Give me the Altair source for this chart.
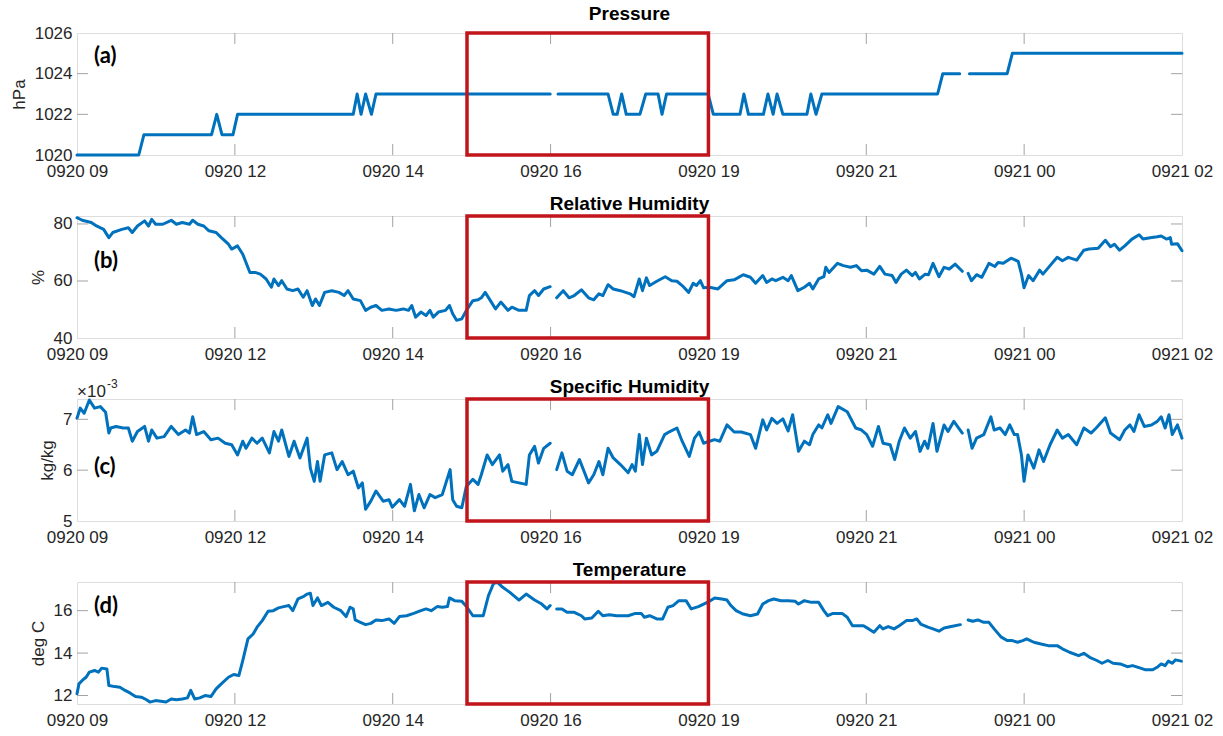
import altair as alt
import pandas as pd
import numpy as np

# ---------------- data (hours after 0920 09:00) ----------------
x_tick_labels = ["0920 09", "0920 12", "0920 14", "0920 16",
                 "0920 19", "0920 21", "0921 00", "0921 02"]
x_ticks = [i * 17 / 7 for i in range(8)]
gap_edges = [7.33, 13.66]          # data gaps split the lines here
box_span = [6.0, 17 * 4 / 7]       # highlighted window (red box)

p_hours = [0, 0.95, 1.03, 2.07, 2.15, 2.23, 2.40, 2.47, 4.25, 4.31, 4.37, 4.44, 4.53, 4.60, 7.28,
           7.40, 8.17, 8.25, 8.31, 8.38, 8.45, 8.66, 8.75, 8.94, 9.00, 9.07, 9.71, 9.79, 10.20,
           10.26, 10.33, 10.56, 10.63, 10.71, 10.77, 10.86, 11.23, 11.29, 11.37, 11.46, 13.24,
           13.32, 13.58, 13.73, 14.31, 14.39, 17.0]
p_hpa = [1020, 1020, 1021, 1021, 1022, 1021, 1021, 1022, 1022, 1023, 1022, 1023, 1022, 1023, 1023,
         1023, 1023, 1022, 1022, 1023, 1022, 1022, 1023, 1023, 1022, 1023, 1023, 1022, 1022,
         1023, 1022, 1022, 1023, 1022, 1023, 1022, 1022, 1023, 1022, 1023, 1023,
         1024, 1024, 1024, 1024, 1025, 1025]

rh_hours = [0.00, 0.08, 0.22, 0.30, 0.41, 0.49, 0.55, 0.69, 0.79, 0.85,
            0.93, 1.04, 1.10, 1.15, 1.21, 1.32, 1.45, 1.53, 1.62, 1.73,
            1.78, 1.86, 1.95, 2.03, 2.14, 2.22, 2.33, 2.38, 2.47, 2.55,
            2.60, 2.66, 2.74, 2.82, 2.91, 2.99, 3.03, 3.10, 3.15, 3.23,
            3.32, 3.40, 3.48, 3.54, 3.62, 3.67, 3.73, 3.81, 3.92, 4.03,
            4.11, 4.17, 4.25, 4.36, 4.44, 4.52, 4.60, 4.69, 4.80, 4.91,
            5.02, 5.10, 5.15, 5.21, 5.29, 5.37, 5.43, 5.48, 5.56, 5.67,
            5.73, 5.78, 5.84, 5.92, 5.99, 6.09, 6.17, 6.22, 6.28, 6.36,
            6.44, 6.52, 6.63, 6.69, 6.80, 6.91, 6.96, 7.04, 7.10, 7.18,
            7.28, 7.38, 7.48, 7.57, 7.65, 7.76, 7.87, 7.95, 8.03, 8.09,
            8.17, 8.25, 8.36, 8.51, 8.57, 8.65, 8.70, 8.76, 8.81, 8.92,
            9.05, 9.15, 9.23, 9.31, 9.41, 9.48, 9.53, 9.59, 9.64, 9.73,
            9.86, 10.00, 10.11, 10.25, 10.36, 10.44, 10.55, 10.61, 10.69, 10.75,
            10.86, 10.94, 10.99, 11.09, 11.19, 11.27, 11.32, 11.41, 11.49, 11.52,
            11.57, 11.70, 11.79, 11.90, 11.99, 12.07, 12.15, 12.26, 12.35, 12.43,
            12.54, 12.60, 12.68, 12.76, 12.85, 12.90, 12.96, 13.05, 13.10, 13.17,
            13.26, 13.34, 13.42, 13.51, 13.62, 13.71, 13.76, 13.84, 13.92, 14.03,
            14.12, 14.17, 14.25, 14.37, 14.48, 14.53, 14.57, 14.64, 14.71, 14.81,
            14.86, 14.97, 15.08, 15.16, 15.25, 15.38, 15.49, 15.57, 15.71, 15.82,
            15.90, 15.96, 16.04, 16.12, 16.23, 16.34, 16.40, 16.51, 16.62, 16.68,
            16.76, 16.82, 16.84, 16.93, 17.00]
rh_pct = [82.2, 81.3, 80.5, 79.3, 78.1, 75.2, 77.0, 78.1, 78.7, 77.0,
          79.3, 81.1, 79.3, 81.6, 79.9, 79.9, 81.3, 79.9, 80.5, 79.9,
          81.3, 79.9, 79.3, 77.6, 77.0, 75.2, 72.9, 71.2, 72.3, 69.4,
          66.5, 63.0, 63.0, 62.4, 60.7, 57.8, 60.7, 58.4, 60.1, 57.2,
          56.6, 57.2, 54.3, 56.6, 51.4, 53.7, 51.4, 56.0, 56.6, 56.0,
          54.9, 56.6, 53.7, 53.1, 49.7, 50.8, 51.4, 49.7, 50.2, 49.7,
          50.2, 49.7, 51.4, 47.3, 49.1, 47.9, 49.7, 47.3, 49.1, 49.7,
          51.4, 48.5, 46.2, 46.7, 49.7, 53.1, 53.4, 54.1, 56.0, 53.1,
          50.2, 52.6, 49.7, 50.8, 49.7, 49.7, 54.9, 56.6, 54.9, 57.2,
          58.0, 54.1, 56.6, 54.1, 54.9, 56.9, 54.1, 53.4, 55.5, 54.9,
          58.7, 57.2, 56.6, 55.5, 54.5, 60.7, 56.6, 61.1, 58.4, 59.9,
          61.5, 60.1, 59.9, 58.4, 56.0, 59.2, 58.4, 60.1, 57.6, 57.8,
          57.2, 60.1, 60.4, 62.2, 61.3, 59.2, 61.9, 59.5, 60.7, 60.1,
          61.3, 60.1, 61.9, 56.6, 57.8, 59.2, 57.2, 60.7, 61.5, 64.8,
          63.0, 66.2, 65.4, 64.8, 65.4, 63.6, 63.8, 62.4, 65.1, 62.4,
          61.9, 59.5, 62.4, 63.8, 61.9, 63.0, 60.7, 62.4, 62.2, 66.2,
          61.5, 64.8, 64.2, 65.9, 63.4, 62.7, 60.1, 62.2, 61.3, 66.2,
          65.1, 66.5, 66.2, 68.0, 66.9, 62.4, 57.6, 61.9, 60.1, 63.8,
          62.4, 65.4, 68.3, 67.1, 68.3, 67.3, 70.8, 71.2, 71.5, 74.3,
          72.0, 72.9, 70.8, 72.3, 74.7, 76.2, 74.7, 75.2, 75.5, 75.8,
          74.7, 75.2, 72.9, 73.1, 70.6]

q_hours = [0.00, 0.05, 0.11, 0.19, 0.27, 0.36, 0.44, 0.49, 0.52, 0.60,
           0.71, 0.79, 0.85, 0.93, 1.04, 1.10, 1.15, 1.23, 1.34, 1.45,
           1.56, 1.67, 1.73, 1.78, 1.84, 1.95, 2.06, 2.17, 2.28, 2.38,
           2.47, 2.55, 2.60, 2.69, 2.77, 2.85, 2.96, 3.03, 3.10, 3.15,
           3.26, 3.34, 3.43, 3.54, 3.59, 3.65, 3.70, 3.74, 3.81, 3.92,
           4.00, 4.08, 4.17, 4.25, 4.33, 4.39, 4.44, 4.52, 4.60, 4.71,
           4.80, 4.85, 4.96, 5.04, 5.13, 5.19, 5.26, 5.34, 5.43, 5.51,
           5.62, 5.74, 5.78, 5.84, 5.92, 5.99, 6.09, 6.17, 6.22, 6.31,
           6.39, 6.50, 6.55, 6.63, 6.69, 6.80, 6.91, 6.96, 7.04, 7.10,
           7.18, 7.28, 7.38, 7.46, 7.54, 7.62, 7.73, 7.87, 7.95, 8.03,
           8.09, 8.17, 8.25, 8.36, 8.48, 8.54, 8.59, 8.65, 8.70, 8.76,
           8.84, 8.92, 9.04, 9.12, 9.23, 9.31, 9.42, 9.50, 9.57, 9.64,
           9.73, 9.81, 9.89, 10.00, 10.11, 10.22, 10.36, 10.44, 10.55, 10.61,
           10.69, 10.77, 10.86, 10.94, 11.01, 11.10, 11.19, 11.27, 11.32, 11.41,
           11.46, 11.55, 11.60, 11.71, 11.85, 11.98, 12.07, 12.15, 12.24, 12.33,
           12.40, 12.51, 12.58, 12.65, 12.73, 12.82, 12.90, 12.97, 13.04, 13.09,
           13.17, 13.23, 13.34, 13.40, 13.49, 13.62, 13.71, 13.77, 13.84, 13.95,
           14.06, 14.11, 14.20, 14.28, 14.35, 14.42, 14.47, 14.53, 14.57, 14.63,
           14.72, 14.80, 14.87, 14.97, 15.08, 15.16, 15.25, 15.38, 15.49, 15.60,
           15.68, 15.82, 15.90, 16.04, 16.12, 16.20, 16.26, 16.34, 16.42, 16.53,
           16.62, 16.68, 16.74, 16.80, 16.85, 16.93, 17.00]
q_e3 = [7.02, 7.22, 7.12, 7.38, 7.22, 7.25, 7.14, 6.73, 6.83, 6.86,
        6.83, 6.83, 6.57, 6.76, 6.86, 6.57, 6.79, 6.63, 6.66, 6.86,
        6.70, 6.79, 6.73, 7.05, 6.70, 6.76, 6.60, 6.63, 6.53, 6.50,
        6.30, 6.57, 6.43, 6.63, 6.53, 6.63, 6.34, 6.76, 6.57, 6.79,
        6.27, 6.57, 6.24, 6.63, 6.04, 5.78, 6.17, 5.78, 6.30, 6.34,
        6.01, 6.17, 5.91, 5.98, 5.65, 5.75, 5.23, 5.39, 5.59, 5.39,
        5.42, 5.27, 5.42, 5.29, 5.72, 5.20, 5.52, 5.26, 5.52, 5.46,
        5.52, 6.01, 5.42, 5.29, 5.26, 5.68, 5.82, 5.72, 5.91, 6.30,
        6.11, 6.30, 5.98, 6.11, 5.78, 5.75, 5.72, 6.30, 6.47, 6.14,
        6.43, 6.53, 6.01, 6.34, 5.98, 5.91, 6.21, 5.75, 5.91, 6.17,
        5.91, 6.43, 6.24, 6.11, 5.95, 6.11, 5.98, 6.70, 6.11, 6.63,
        6.30, 6.37, 6.70, 6.76, 6.83, 6.57, 6.27, 6.63, 6.75, 6.53,
        6.57, 6.60, 6.57, 6.89, 6.75, 6.75, 6.70, 6.43, 6.99, 6.79,
        7.02, 6.92, 7.01, 6.77, 7.09, 6.37, 6.57, 6.50, 6.70, 6.89,
        6.83, 7.09, 6.92, 7.25, 7.15, 6.83, 6.79, 6.70, 6.47, 6.86,
        6.53, 6.50, 6.21, 6.57, 6.83, 6.63, 6.76, 6.37, 6.57, 6.43,
        6.92, 6.37, 6.89, 6.76, 6.96, 6.73, 6.79, 6.43, 6.63, 6.70,
        7.05, 6.79, 6.83, 6.70, 6.89, 6.70, 6.70, 6.30, 5.78, 6.30,
        6.04, 6.40, 6.17, 6.50, 6.79, 6.63, 6.70, 6.50, 6.83, 6.73,
        6.83, 7.03, 6.73, 6.60, 6.79, 6.89, 6.76, 7.09, 6.86, 6.89,
        6.96, 7.05, 6.83, 7.09, 6.70, 6.89, 6.63]

t_hours = [0.00, 0.03, 0.08, 0.14, 0.19, 0.27, 0.33, 0.38, 0.46, 0.49,
           0.58, 0.66, 0.74, 0.82, 0.90, 0.99, 1.07, 1.12, 1.21, 1.29,
           1.37, 1.45, 1.53, 1.62, 1.70, 1.75, 1.81, 1.89, 1.97, 2.06,
           2.14, 2.22, 2.33, 2.41, 2.49, 2.55, 2.63, 2.71, 2.77, 2.85,
           2.94, 3.02, 3.10, 3.18, 3.26, 3.32, 3.40, 3.48, 3.54, 3.59,
           3.63, 3.70, 3.76, 3.86, 3.95, 4.06, 4.14, 4.20, 4.25, 4.28,
           4.36, 4.44, 4.52, 4.60, 4.69, 4.80, 4.88, 4.96, 5.07, 5.18,
           5.29, 5.37, 5.45, 5.54, 5.62, 5.70, 5.73, 5.81, 5.92, 6.00,
           6.09, 6.25, 6.33, 6.41, 6.47, 6.55, 6.66, 6.80, 6.91, 7.04,
           7.15, 7.23, 7.28, 7.38, 7.46, 7.54, 7.65, 7.76, 7.81, 7.92,
           8.02, 8.09, 8.19, 8.30, 8.48, 8.59, 8.68, 8.73, 8.81, 8.92,
           9.01, 9.09, 9.17, 9.26, 9.37, 9.45, 9.56, 9.73, 9.81, 9.92,
           10.00, 10.06, 10.14, 10.25, 10.36, 10.47, 10.55, 10.64, 10.72, 10.83,
           10.94, 11.05, 11.10, 11.19, 11.30, 11.41, 11.49, 11.55, 11.63, 11.77,
           11.85, 11.93, 12.10, 12.18, 12.26, 12.35, 12.40, 12.48, 12.57, 12.65,
           12.76, 12.85, 12.92, 12.98, 13.09, 13.17, 13.26, 13.34, 13.45, 13.59,
           13.71, 13.78, 13.86, 13.95, 14.03, 14.11, 14.22, 14.31, 14.39, 14.47,
           14.55, 14.61, 14.72, 14.83, 14.94, 15.08, 15.16, 15.27, 15.41, 15.49,
           15.58, 15.69, 15.77, 15.86, 15.94, 16.05, 16.16, 16.24, 16.35, 16.44,
           16.55, 16.63, 16.68, 16.74, 16.79, 16.85, 16.90, 16.99]
t_degc = [12.08, 12.55, 12.71, 12.86, 13.10, 13.18, 13.10, 13.29, 13.25, 12.47,
          12.42, 12.39, 12.24, 12.11, 11.95, 11.92, 11.80, 11.69, 11.76, 11.73,
          11.69, 11.84, 11.80, 11.84, 11.89, 12.24, 11.84, 11.89, 12.00, 11.95,
          12.31, 12.55, 12.86, 12.99, 12.94, 13.65, 14.67, 14.90, 15.22, 15.53,
          15.97, 16.00, 16.13, 16.19, 16.24, 16.00, 16.55, 16.66, 16.78, 16.82,
          16.24, 16.60, 16.24, 16.39, 16.16, 16.00, 15.72, 16.16, 16.08, 15.56,
          15.45, 15.34, 15.40, 15.56, 15.53, 15.61, 15.40, 15.72, 15.76, 15.87,
          16.00, 16.08, 16.00, 16.19, 16.16, 16.19, 16.60, 16.47, 16.44, 16.16,
          15.76, 15.76, 16.71, 17.29, 17.33, 17.10, 16.86, 16.50, 16.78, 16.50,
          16.31, 16.08, 16.24, 16.08, 16.08, 15.92, 15.92, 15.76, 15.61, 15.65,
          15.97, 15.76, 15.81, 15.76, 15.76, 15.87, 15.87, 15.69, 15.76, 15.61,
          15.61, 16.16, 16.24, 16.47, 16.47, 16.08, 16.19, 16.44, 16.60, 16.55,
          16.50, 16.24, 16.00, 15.84, 15.76, 15.84, 16.31, 16.47, 16.55, 16.47,
          16.47, 16.44, 16.31, 16.47, 16.39, 16.39, 16.00, 15.76, 15.87, 15.87,
          15.69, 15.29, 15.29, 15.14, 14.98, 15.29, 15.14, 15.25, 15.14, 15.29,
          15.53, 15.53, 15.61, 15.37, 15.22, 15.14, 15.03, 15.18, 15.25, 15.34,
          15.56, 15.50, 15.56, 15.45, 15.45, 15.14, 14.75, 14.59, 14.59, 14.51,
          14.59, 14.67, 14.51, 14.43, 14.35, 14.35, 14.20, 14.04, 13.88, 13.99,
          13.80, 13.65, 13.52, 13.65, 13.52, 13.49, 13.36, 13.41, 13.30, 13.21,
          13.21, 13.36, 13.49, 13.41, 13.62, 13.52, 13.68, 13.62]

# ---------------- styling ----------------
W, H = 1105, 122
FONT = "Liberation Sans"
LINE = "#0072BD"
RED = "#C1141B"
GREY = "#A3A3A3"
TXT = "#262626"
TICK = 11

label_expr = "[" + ",".join("'%s'" % s for s in x_tick_labels) + "][round(datum.value*7/17)]"


def series_df(h, v):
    h = np.asarray(h, dtype=float)
    seg = np.where(h < gap_edges[0], 0, np.where(h < gap_edges[1], 1, 2))
    return pd.DataFrame({"h": h, "v": v, "seg": seg})


def panel(h, v, title, ydom, yvals, ytitle, tag, tag_y, extra=(), title_offset=0):
    xenc = alt.X("h:Q", title=None,
                 scale=alt.Scale(domain=[0, 17], nice=False, zero=False),
                 axis=alt.Axis(values=x_ticks, labelExpr=label_expr, labelFlush=False,
                               ticks=False, domain=False, grid=False, labelPadding=8,
                               labelFontSize=17, labelColor=TXT, labelFont=FONT))
    yenc = alt.Y("v:Q", title=ytitle,
                 scale=alt.Scale(domain=ydom, nice=False, zero=False),
                 axis=alt.Axis(values=yvals, format="d", ticks=False, domain=False, grid=False,
                               labelPadding=5, labelFontSize=17, labelColor=TXT,
                               labelFont=FONT, titleFont=FONT, titleFontSize=17,
                               titleFontWeight="normal", titleColor=TXT, titlePadding=6))
    line = alt.Chart(series_df(h, v)).mark_line(
        color=LINE, strokeWidth=3, strokeJoin="round", strokeCap="round"
    ).encode(x=xenc, y=yenc, detail="seg:N")

    xt = pd.DataFrame({"h": x_ticks[1:-1]})
    xt_bot = alt.Chart(xt).mark_rule(color=GREY, strokeWidth=1).encode(
        x=xenc, y=alt.value(H), y2=alt.value(H - TICK))
    xt_top = alt.Chart(xt).mark_rule(color=GREY, strokeWidth=1).encode(
        x=xenc, y=alt.value(0), y2=alt.value(TICK))
    yt = pd.DataFrame({"v": [t for t in yvals if ydom[0] < t < ydom[1]]})
    yt_l = alt.Chart(yt).mark_rule(color=GREY, strokeWidth=1).encode(
        y=yenc, x=alt.value(0), x2=alt.value(TICK))
    yt_r = alt.Chart(yt).mark_rule(color=GREY, strokeWidth=1).encode(
        y=yenc, x=alt.value(W), x2=alt.value(W - TICK))

    box = alt.Chart(pd.DataFrame({"h": [box_span[0]], "h2": [box_span[1]]})).mark_rect(
        fillOpacity=0, stroke=RED, strokeWidth=3.5
    ).encode(x=xenc, x2="h2:Q", y=alt.value(0), y2=alt.value(H))

    tagc = alt.Chart(pd.DataFrame({"t": [tag]})).mark_text(
        font="Lato", fontWeight="bold", fontSize=22, align="left", baseline="middle",
        color="black"
    ).encode(x=alt.value(17), y=alt.value(tag_y), text="t:N")

    layers = [line, xt_bot, xt_top, yt_l, yt_r, box, tagc] + list(extra)
    return alt.layer(*layers).properties(
        width=W, height=H,
        title=alt.TitleParams(title, font=FONT, fontSize=19, fontWeight="bold",
                              color="black", anchor="middle", frame="group",
                              offset=title_offset))


exp_txt = alt.Chart(pd.DataFrame({"t": ["\u00d710"]})).mark_text(
    font=FONT, fontSize=17, align="left", baseline="alphabetic", color=TXT
).encode(x=alt.value(0), y=alt.value(-2), text="t:N")
exp_sup = alt.Chart(pd.DataFrame({"t": ["-3"]})).mark_text(
    font=FONT, fontSize=12, align="left", baseline="alphabetic", color=TXT
).encode(x=alt.value(30), y=alt.value(-11), text="t:N")

pa = panel(p_hours, p_hpa, "Pressure", [1020, 1026], [1020, 1022, 1024, 1026], "hPa", "(a)", 23)
pb = panel(rh_hours, rh_pct, "Relative Humidity", [40, 82.8], [40, 60, 80], "%", "(b)", 45)
pc = panel(q_hours, q_e3, "Specific Humidity", [5, 7.4], [5, 6, 7], "kg/kg", "(c)", 68,
           extra=(exp_txt, exp_sup), title_offset=-19)
pd_ = panel(t_hours, t_degc, "Temperature", [11.6, 17.35], [12, 14, 16], "deg C", "(d)", 24)

chart = alt.vconcat(pa, pb, pc, pd_, spacing=14).properties(
    padding={"left": 9, "top": 4, "right": 5, "bottom": 2}
).configure_view(stroke=GREY, strokeWidth=1).configure(background="white")

chart.save("out.html", embed_options={"renderer": "svg", "actions": False})
